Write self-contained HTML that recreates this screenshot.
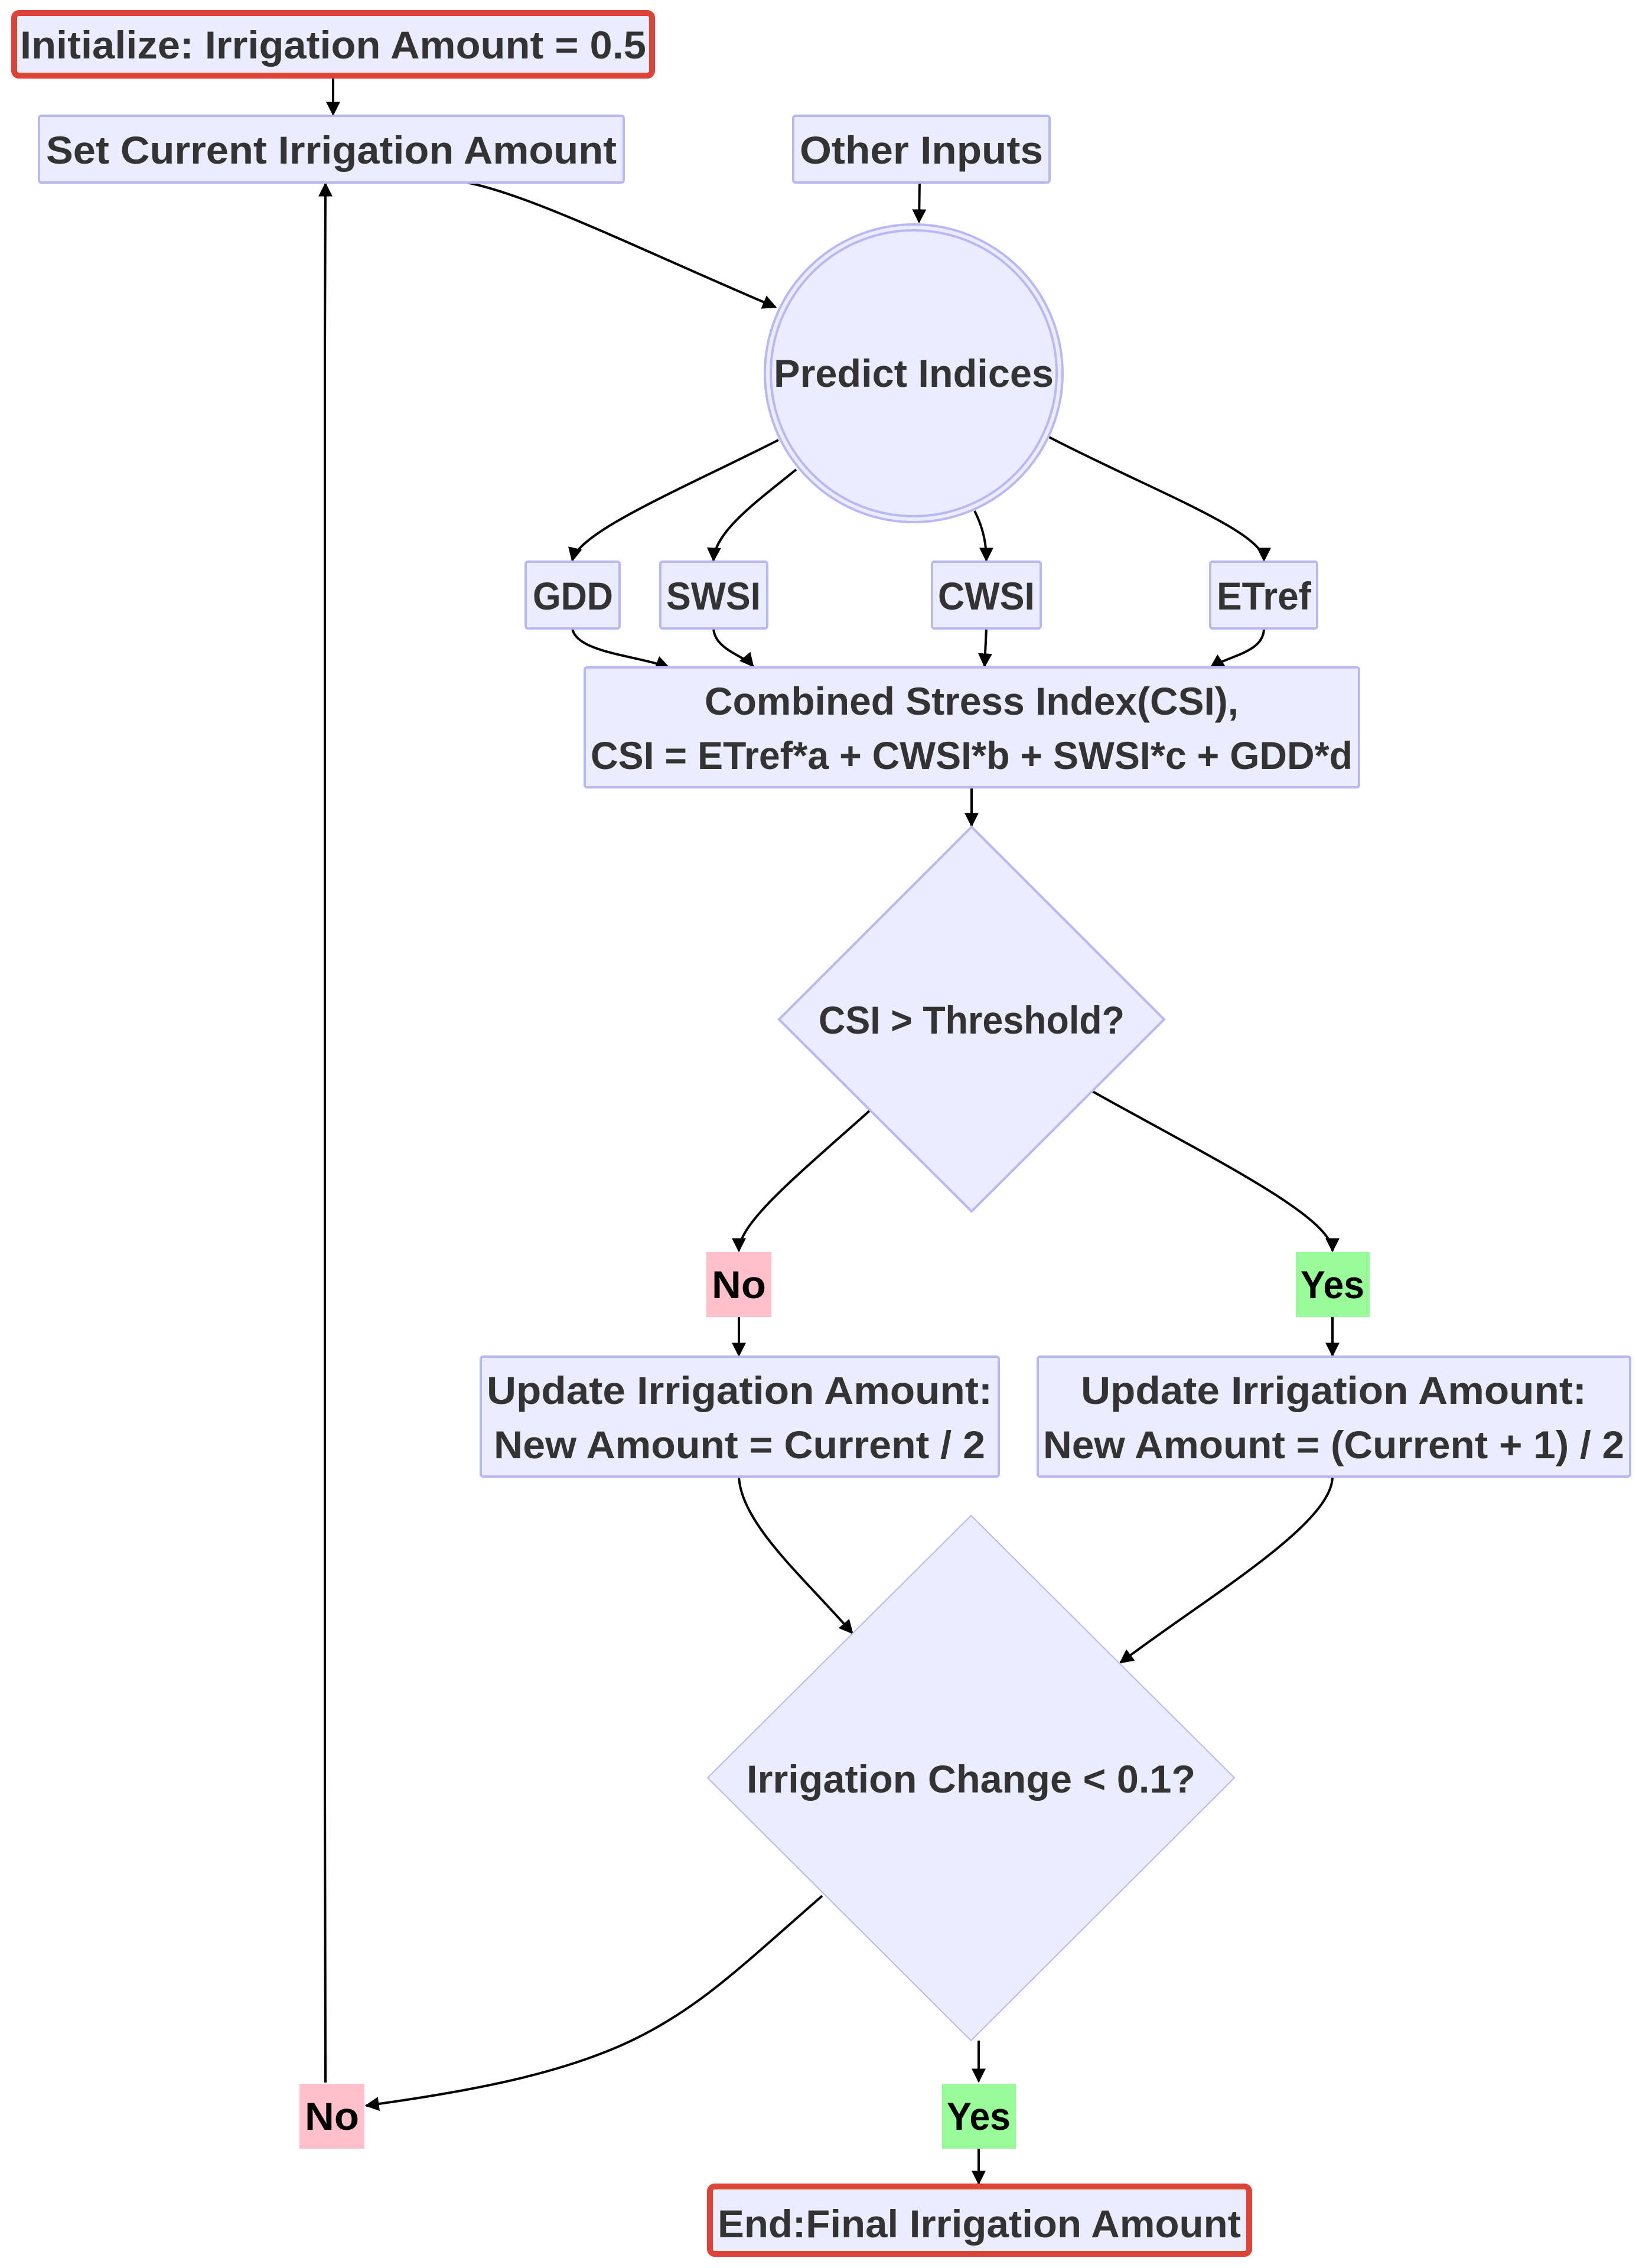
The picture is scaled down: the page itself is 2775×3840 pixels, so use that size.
<!DOCTYPE html>
<html><head><meta charset="utf-8"><style>
html,body{margin:0;padding:0;background:#fff;}
svg{display:block}
text{font-family:"Liberation Sans",sans-serif;font-weight:bold;fill:#333;}
</style></head><body>
<svg width="2775" height="3840" viewBox="0 0 2775 3840" xmlns="http://www.w3.org/2000/svg">
<defs>
<marker id="a" viewBox="0 0 10 10" refX="9" refY="5" markerWidth="6" markerHeight="6" orient="auto" markerUnits="strokeWidth">
<path d="M0,0 L10,5 L0,10 z" fill="#000"/>
</marker>
</defs>
<g fill="none" stroke="#000" stroke-width="4" marker-end="url(#a)">
<path d="M564,130 L564,194"/>
<path d="M790,309 C900,330 1100,430 1313,520"/>
<path d="M1557,309 L1556,376"/>
<path d="M1318,745 C1150,830 980,900 969,949"/>
<path d="M1348,795 C1280,850 1210,900 1208,949"/>
<path d="M1650,865 C1668,900 1670,930 1670,949"/>
<path d="M1776,740 C1950,830 2140,900 2140,949"/>
<path d="M969,1064 C975,1105 1080,1110 1132,1130"/>
<path d="M1208,1064 C1210,1100 1260,1110 1275,1128"/>
<path d="M1670,1064 L1667,1128"/>
<path d="M2140,1064 C2140,1105 2080,1110 2050,1130"/>
<path d="M1645,1333 L1645,1398"/>
<path d="M1473,1880 C1350,1990 1251,2070 1251,2118"/>
<path d="M1850,1848 C2050,1960 2256,2060 2256,2118"/>
<path d="M1251,2230 L1251,2295"/>
<path d="M2256,2230 L2256,2295"/>
<path d="M1251,2500 C1255,2580 1360,2670 1443,2765"/>
<path d="M2256,2500 C2256,2580 2050,2700 1897,2815"/>
<path d="M1392,3210 C1150,3420 1100,3500 620,3565"/>
<path d="M1657,3455 L1657,3524"/>
<path d="M1657,3636 L1657,3697"/>
<path d="M551,3526 C551,3400 550,3300 550,3000 L550,600 C550,400 551,340 551,311"/>
</g>
<g fill="#ECECFF" stroke="#b8b8f5" stroke-width="4">
<rect x="66" y="196" width="990" height="113" rx="4"/>
<rect x="1343" y="196" width="434" height="113" rx="4"/>
<circle cx="1547" cy="632" r="252"/>
<circle cx="1547" cy="632" r="242"/>
<rect x="890" y="951" width="159" height="113" rx="4"/>
<rect x="1118" y="951" width="181" height="113" rx="4"/>
<rect x="1578" y="951" width="184" height="113" rx="4"/>
<rect x="2049" y="951" width="181" height="113" rx="4"/>
<rect x="990" y="1130" width="1311" height="203" rx="4"/>
<polygon points="1645,1400 1971,1726 1645,2051 1319,1726"/>
<rect x="814" y="2297" width="877" height="203" rx="4"/>
<rect x="1757" y="2297" width="1003" height="203" rx="4"/>
<polygon points="1644,2566 2090,3010 1644,3455 1198,3010" stroke-width="2"/>
</g>
<g fill="#ECECFF" stroke="#db4437" stroke-width="10">
<rect x="24" y="22" width="1080" height="106" rx="8"/>
<rect x="1202" y="3702" width="913" height="114" rx="8"/>
</g>
<rect x="1196" y="2120" width="110" height="110" fill="#FFC0CB"/>
<rect x="2194" y="2120" width="125" height="110" fill="#98FB98"/>
<rect x="507" y="3528" width="110" height="110" fill="#FFC0CB"/>
<rect x="1595" y="3528" width="125" height="110" fill="#98FB98"/>
<g font-size="66" text-anchor="middle">
<text x="564" y="99" textLength="1060" lengthAdjust="spacingAndGlyphs">Initialize: Irrigation Amount = 0.5</text>
<text x="561" y="277" textLength="966" lengthAdjust="spacingAndGlyphs">Set Current Irrigation Amount</text>
<text x="1560" y="277" textLength="412" lengthAdjust="spacingAndGlyphs">Other Inputs</text>
<text x="1547" y="655" textLength="474" lengthAdjust="spacingAndGlyphs">Predict Indices</text>
<text x="970" y="1032" textLength="136" lengthAdjust="spacingAndGlyphs">GDD</text>
<text x="1208" y="1032" textLength="160" lengthAdjust="spacingAndGlyphs">SWSI</text>
<text x="1670" y="1032" textLength="164" lengthAdjust="spacingAndGlyphs">CWSI</text>
<text x="2140" y="1032" textLength="160" lengthAdjust="spacingAndGlyphs">ETref</text>
<text x="1645" y="1210" textLength="904" lengthAdjust="spacingAndGlyphs">Combined Stress Index(CSI),</text>
<text x="1645" y="1302" textLength="1290" lengthAdjust="spacingAndGlyphs">CSI = ETref*a + CWSI*b + SWSI*c + GDD*d</text>
<text x="1645" y="1750" textLength="518" lengthAdjust="spacingAndGlyphs">CSI &gt; Threshold?</text>
<text x="1252" y="2377" textLength="856" lengthAdjust="spacingAndGlyphs">Update Irrigation Amount:</text>
<text x="1252" y="2469" textLength="832" lengthAdjust="spacingAndGlyphs">New Amount = Current / 2</text>
<text x="2258" y="2377" textLength="856" lengthAdjust="spacingAndGlyphs">Update Irrigation Amount:</text>
<text x="2258" y="2469" textLength="984" lengthAdjust="spacingAndGlyphs">New Amount = (Current + 1) / 2</text>
<text x="1644" y="3035" textLength="760" lengthAdjust="spacingAndGlyphs">Irrigation Change &lt; 0.1?</text>
<text x="1658" y="3788" textLength="886" lengthAdjust="spacingAndGlyphs">End:Final Irrigation Amount</text>
</g>
<g font-size="66" text-anchor="middle">
<text x="1251" y="2198" style="fill:#000" textLength="92" lengthAdjust="spacingAndGlyphs">No</text>
<text x="2256" y="2198" style="fill:#000" textLength="108" lengthAdjust="spacingAndGlyphs">Yes</text>
<text x="562" y="3606" style="fill:#000" textLength="92" lengthAdjust="spacingAndGlyphs">No</text>
<text x="1657" y="3606" style="fill:#000" textLength="108" lengthAdjust="spacingAndGlyphs">Yes</text>
</g>
</svg>
</body></html>
